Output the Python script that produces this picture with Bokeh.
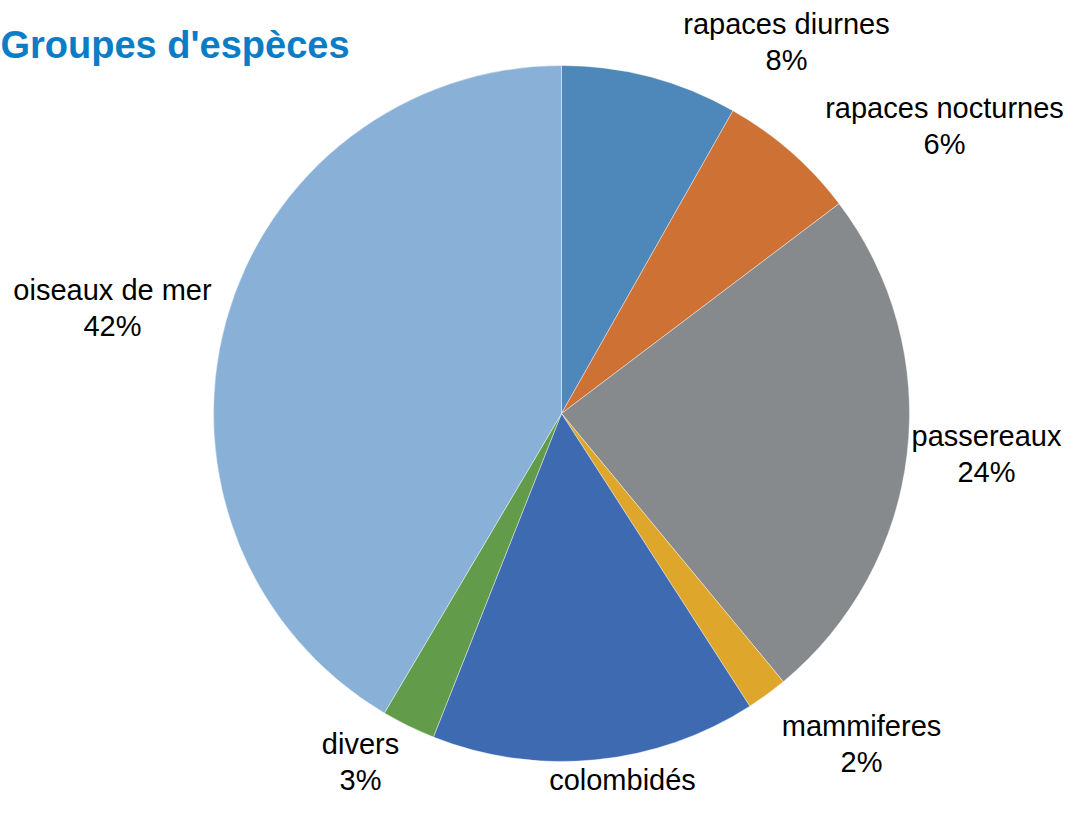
import numpy as np
from bokeh.plotting import figure
from bokeh.models import ColumnDataSource, Range1d
from bokeh.core.properties import value
from bokeh.embed import file_html
from bokeh.resources import INLINE

# ---- data ----
categories = ["rapaces diurnes", "rapaces nocturnes", "passereaux", "mammiferes",
              "colombidés", "divers", "oiseaux de mer"]
shares = [8.2, 6.5, 24.3, 1.9, 15.1, 2.5, 41.5]
pct_labels = ["8%", "6%", "24%", "2%", "15%", "3%", "42%"]
colors = ["#4E87B9", "#CD7135", "#878A8C", "#DEA62B", "#3D6AB1", "#629C4A", "#89B1D8"]

# ---- layout (plot pixel coordinates, y measured up from bottom) ----
W, H = 1063, 798
cx, cy, R = 561, 385, 348
label_x = [786, 944, 986, 861, 622, 360, 112]
label_top = [23, 107, 435, 725, 779, 743, 289]   # distance from top of name line
show_pct = [True, True, True, True, False, True, True]
line_gap = 36

vals = np.array(shares, dtype=float)
frac = vals / vals.sum()
cum = np.concatenate([[0.0], np.cumsum(frac)])
start = np.pi / 2 - 2 * np.pi * cum[:-1]
end = np.pi / 2 - 2 * np.pi * cum[1:]

src = ColumnDataSource(dict(cat=categories, start=start, end=end, color=colors))

p = figure(width=W, height=H, x_range=Range1d(0, W), y_range=Range1d(0, H),
           output_backend="svg", toolbar_location=None, min_border=0)
p.axis.visible = False
p.grid.visible = False
p.outline_line_color = None
p.background_fill_color = "white"
p.border_fill_color = "white"

p.wedge(x=cx, y=cy, radius=R, start_angle="start", end_angle="end",
        direction="clock", fill_color="color", line_color="white",
        line_width=0.4, source=src)

label_y = [H - t for t in label_top]

# category names and percentages
name_src = ColumnDataSource(dict(x=label_x, y=label_y, t=categories))
p.text(x="x", y="y", text="t", source=name_src, text_align="center",
       text_baseline="middle", text_font=value("Liberation Sans"),
       text_font_size="29px", text_color="#000000")

px, py, pt = [], [], []
for i in range(len(categories)):
    if show_pct[i]:
        px.append(label_x[i])
        py.append(label_y[i] - line_gap)
        pt.append(pct_labels[i])
pct_src = ColumnDataSource(dict(x=px, y=py, t=pt))
p.text(x="x", y="y", text="t", source=pct_src, text_align="center",
       text_baseline="middle", text_font=value("Liberation Sans"),
       text_font_size="29px", text_color="#000000")

# title
p.text(x=[0], y=[H - 44], text=["Groupes d'espèces"], text_align="left",
       text_baseline="middle", text_font=value("Liberation Sans"),
       text_font_style="bold", text_font_size="38px", text_color="#0A7DC6")

open("out.html", "w").write(file_html(p, INLINE))
